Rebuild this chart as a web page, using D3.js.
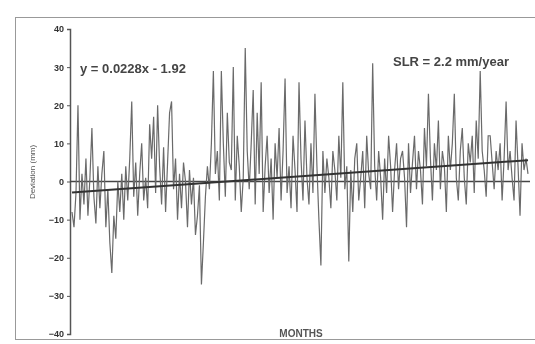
<!DOCTYPE html>
<html><head><meta charset="utf-8">
<script src="https://cdn.jsdelivr.net/npm/d3@7"></script>
<style>body{margin:0;background:#fff}svg{display:block;font-family:"Liberation Sans",Arial,sans-serif}</style>
</head><body><svg id="c" width="535" height="344"></svg>
<script>
// Monthly sea level deviations (mm)
const values = [
 -8,-12,-3,20,-10,2,-6,6,-9,1,
 14,-4,-11,4,-7,2,8,-12,-2,-16,
 -24,-9,-15,0,-8,2,-10,4,-5,6,
 21,-4,5,-9,2,10,-5,1,-7,15,
 6,17,-3,20,4,-6,9,-8,5,18,
 21,-2,6,-10,2,-7,5,0,-12,3,
 -6,1,-14,-9,-1,-27,-16,-4,4,-2,
 10,29,2,8,-5,29,10,-4,18,5,
 3,30,-5,12,4,-8,1,35,8,-2,
 10,24,-6,18,2,26,-8,4,12,-3,
 6,-10,10,1,14,-5,8,27,-3,4,
 -7,12,3,-8,26,6,-5,16,1,-6,
 10,-3,23,4,-10,-22,8,-3,6,1,
 -7,8,3,-5,12,1,26,-2,4,-21,
 3,-8,6,10,-5,1,8,-7,12,2,
 -2,31,4,-5,8,1,-10,6,-3,12,
 4,-8,3,10,-2,6,8,1,-12,10,
 -3,5,12,-2,8,3,-6,14,4,23,
 6,-5,10,3,16,-2,8,4,-8,12,
 3,10,23,1,-5,8,14,1,-6,10,
 5,12,-3,16,6,29,8,3,-4,12,
 12,5,-2,8,3,10,-5,6,21,3,
 8,1,-5,16,4,-9,10,3,6,2
];
const yTicks = [40,30,20,10,0,-10,-20,-30,-40];
const trendStart = -2.9;   // trend value at first month
const trendEnd = 5.6;      // trend value at last month
const equationLabel = "y = 0.0228x - 1.92";
const slrLabel = "SLR = 2.2 mm/year";
const yTitle = "Deviation (mm)";
const xTitle = "MONTHS";

const svg = d3.select("#c");
const defs = svg.append("defs");
defs.append("filter").attr("id","blur").append("feGaussianBlur").attr("stdDeviation",0.6);
const g = svg.append("g").attr("filter","url(#blur)");

const x = d3.scaleLinear().domain([0, values.length-1]).range([72, 528]);
const y = d3.scaleLinear().domain([-40, 40]).range([334, 29]);

// outer frame
g.append("rect").attr("x",15.5).attr("y",17.5).attr("width",525).attr("height",322)
  .attr("fill","none").attr("stroke","#999").attr("stroke-width",1);

// y axis
const ax = g.append("g").attr("transform","translate(70,0)")
  .call(d3.axisLeft(y).tickValues(yTicks).tickSize(3).tickFormat(d3.format("d")));
ax.select(".domain").attr("stroke","#555").attr("stroke-width",1.5);
ax.selectAll(".tick line").attr("stroke","#555");
ax.selectAll("text").attr("font-size",9).attr("font-weight","bold").attr("fill","#333");

// zero line
g.append("line").attr("x1",70).attr("x2",530).attr("y1",y(0)).attr("y2",y(0))
  .attr("stroke","#444").attr("stroke-width",1.5);

// series
g.append("path").datum(values)
  .attr("d", d3.line().x((d,i)=>x(i)).y(d=>y(d)))
  .attr("fill","none").attr("stroke","#6a6a6a").attr("stroke-width",1.2);

// trend line
g.append("line").attr("x1",x(0)).attr("x2",x(values.length-1))
  .attr("y1",y(trendStart)).attr("y2",y(trendEnd))
  .attr("stroke","#333").attr("stroke-width",2);

// labels
g.append("text").attr("x",80).attr("y",73).attr("font-size",13).attr("font-weight","bold")
  .attr("fill","#444").text(equationLabel);
g.append("text").attr("x",393).attr("y",66).attr("font-size",13).attr("font-weight","bold")
  .attr("fill","#444").text(slrLabel);
g.append("text").attr("transform","translate(35,172) rotate(-90)").attr("text-anchor","middle")
  .attr("font-size",8).attr("fill","#555").text(yTitle);
g.append("text").attr("x",301).attr("y",337).attr("text-anchor","middle")
  .attr("font-size",10).attr("font-weight","bold").attr("fill","#555").text(xTitle);
</script></body></html>
